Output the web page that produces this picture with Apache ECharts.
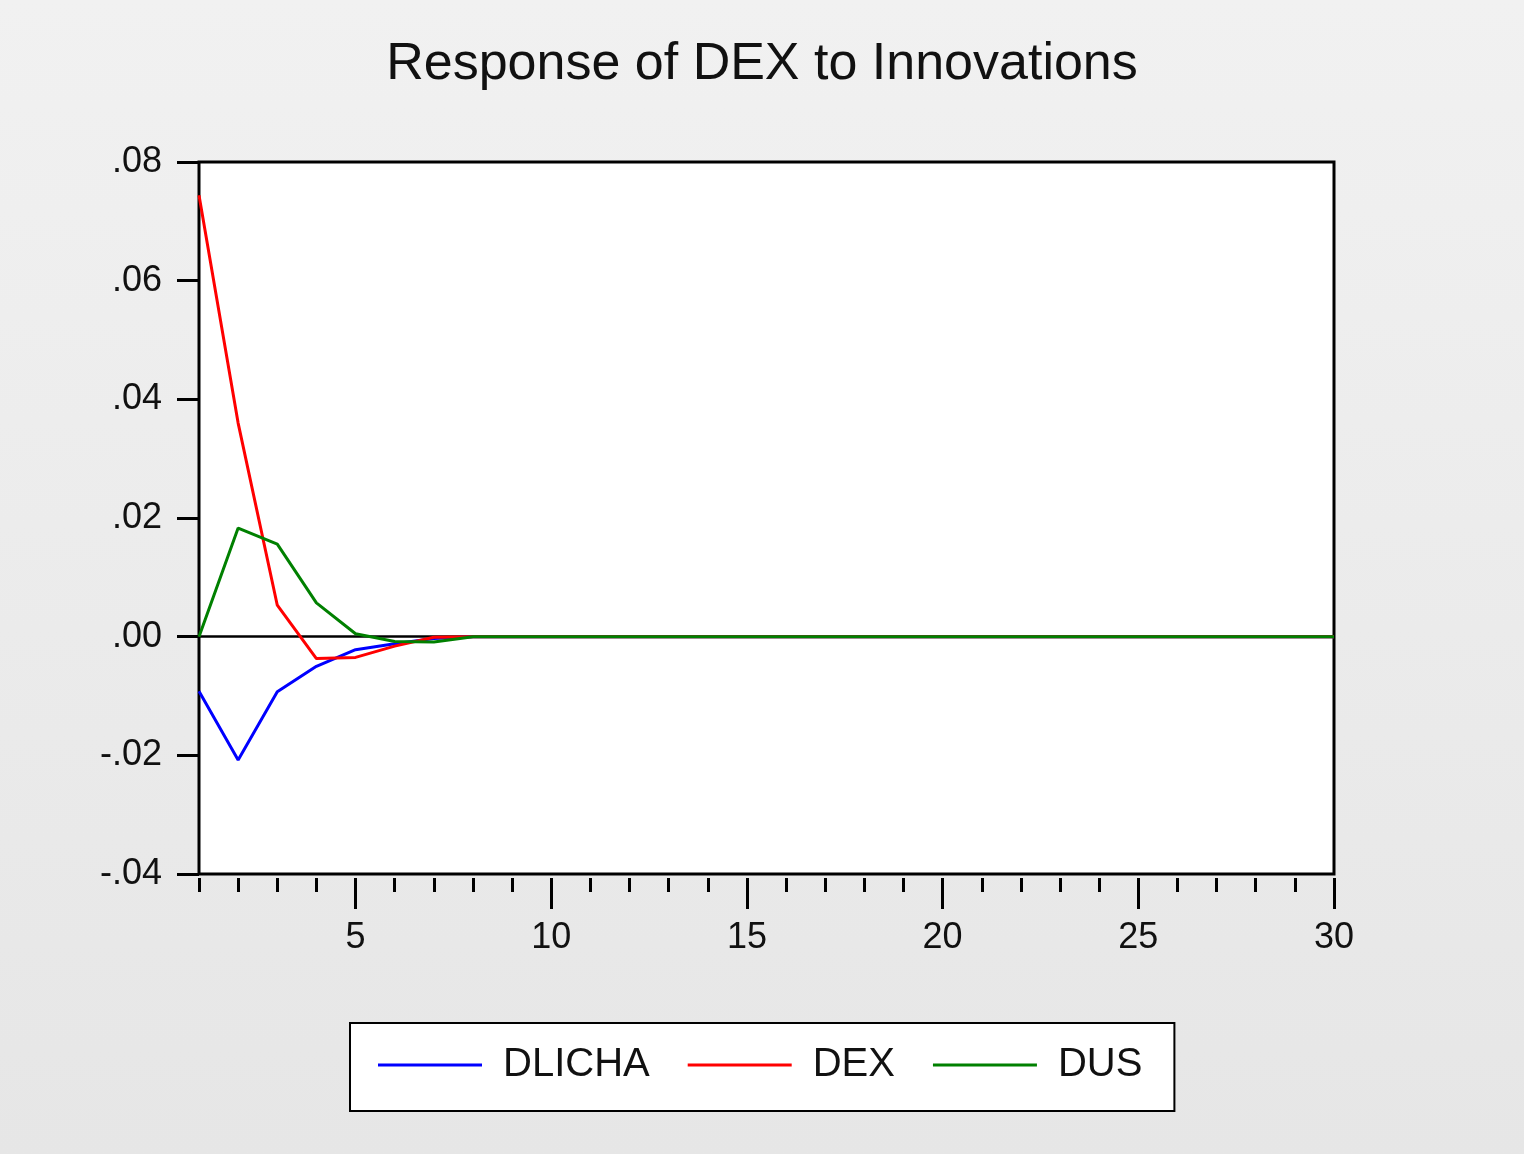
<!DOCTYPE html>
<html>
<head>
<meta charset="utf-8">
<script src="https://cdn.jsdelivr.net/npm/echarts@6/dist/echarts.min.js"></script>
<style>
html,body{margin:0;padding:0;}
#c{width:1524px;height:1154px;}
</style>
</head>
<body>
<div id="c"></div>
<script>
var periods = [];
for (var i = 1; i <= 30; i++) periods.push(i);
var labelValues = [5, 10, 15, 20, 25, 30];
var yTicks = [-0.04, -0.02, 0.00, 0.02, 0.04, 0.06, 0.08];

var DLICHA = [-0.0092, -0.0208, -0.0093, -0.0050, -0.0022, -0.0012, -0.0003, 0, 0, 0, 0, 0, 0, 0, 0, 0, 0, 0, 0, 0, 0, 0, 0, 0, 0, 0, 0, 0, 0, 0];
var DEX    = [0.0744, 0.0360, 0.0053, -0.0037, -0.0035, -0.0016, -0.0001, 0, 0, 0, 0, 0, 0, 0, 0, 0, 0, 0, 0, 0, 0, 0, 0, 0, 0, 0, 0, 0, 0, 0];
var DUS    = [0.0000, 0.0183, 0.0156, 0.0057, 0.0005, -0.0008, -0.0009, 0, 0, 0, 0, 0, 0, 0, 0, 0, 0, 0, 0, 0, 0, 0, 0, 0, 0, 0, 0, 0, 0, 0];

function pairs(vals){ return periods.map(function(p, i){ return [p, vals[i]]; }); }

var font = '"Liberation Sans", Arial, sans-serif';
var chart = echarts.init(document.getElementById('c'));
chart.setOption({
  animation: false,
  backgroundColor: new echarts.graphic.LinearGradient(0, 0, 0, 1, [
    {offset: 0, color: '#f1f1f1'}, {offset: 1, color: '#e6e6e6'}
  ]),
  title: {
    text: 'Response of DEX to Innovations',
    left: 'center', top: 34,
    textStyle: {fontFamily: font, fontSize: 52, fontWeight: 'normal', color: '#111'}
  },
  grid: {
    left: 199, top: 162, right: 190, bottom: 280,
    show: true, backgroundColor: '#fff', borderColor: '#000', borderWidth: 3
  },
  legend: {
    left: 350, top: 1023,
    padding: [22, 32, 26, 28],
    backgroundColor: '#fff', borderColor: '#000', borderWidth: 2,
    icon: 'rect', itemWidth: 104, itemHeight: 3, itemGap: 38,
    textStyle: {fontFamily: font, fontSize: 40, color: '#111', padding: [0, 0, 0, 16]},
    data: ['DLICHA', 'DEX', 'DUS']
  },
  xAxis: [{
    type: 'value', min: 1, max: 30, offset: 4, position: 'bottom',
    axisLine: {show: false, onZero: false},
    axisTick: {show: true, customValues: periods, length: 14, lineStyle: {color: '#000', width: 3}},
    axisLabel: {show: false},
    splitLine: {show: false}
  }, {
    type: 'value', min: 1, max: 30, offset: 4, position: 'bottom',
    axisLine: {show: false, onZero: false},
    axisTick: {show: true, customValues: labelValues, length: 31, lineStyle: {color: '#000', width: 3}},
    axisLabel: {show: true, customValues: labelValues, margin: 42, fontFamily: font, fontSize: 36, color: '#111'},
    splitLine: {show: false}
  }],
  yAxis: {
    type: 'value', min: -0.04, max: 0.08, interval: 0.02,
    axisLine: {show: false},
    axisTick: {show: true, length: 22, lineStyle: {color: '#000', width: 3}},
    axisLabel: {
      margin: 37, fontFamily: font, fontSize: 36, color: '#111',
      formatter: function(v){
        var s = Math.abs(v).toFixed(2).replace(/^0/, '');
        return (v < -1e-9 ? '-' : '') + s;
      }
    },
    splitLine: {show: false}
  },
  series: [{
    name: 'DLICHA', type: 'line', z: 3, data: pairs(DLICHA), showSymbol: false, symbol: 'none',
    lineStyle: {color: '#0000ff', width: 3}, itemStyle: {color: '#0000ff'},
    markLine: {
      z: 2, silent: true, symbol: 'none', label: {show: false},
      lineStyle: {color: '#000', width: 2.5, type: 'solid'},
      data: [{yAxis: 0}]
    }
  }, {
    name: 'DEX', type: 'line', z: 4, data: pairs(DEX), showSymbol: false, symbol: 'none',
    lineStyle: {color: '#ff0000', width: 3}, itemStyle: {color: '#ff0000'}
  }, {
    name: 'DUS', type: 'line', z: 5, data: pairs(DUS), showSymbol: false, symbol: 'none',
    lineStyle: {color: '#008000', width: 3}, itemStyle: {color: '#008000'}
  }]
});
</script>
</body>
</html>
